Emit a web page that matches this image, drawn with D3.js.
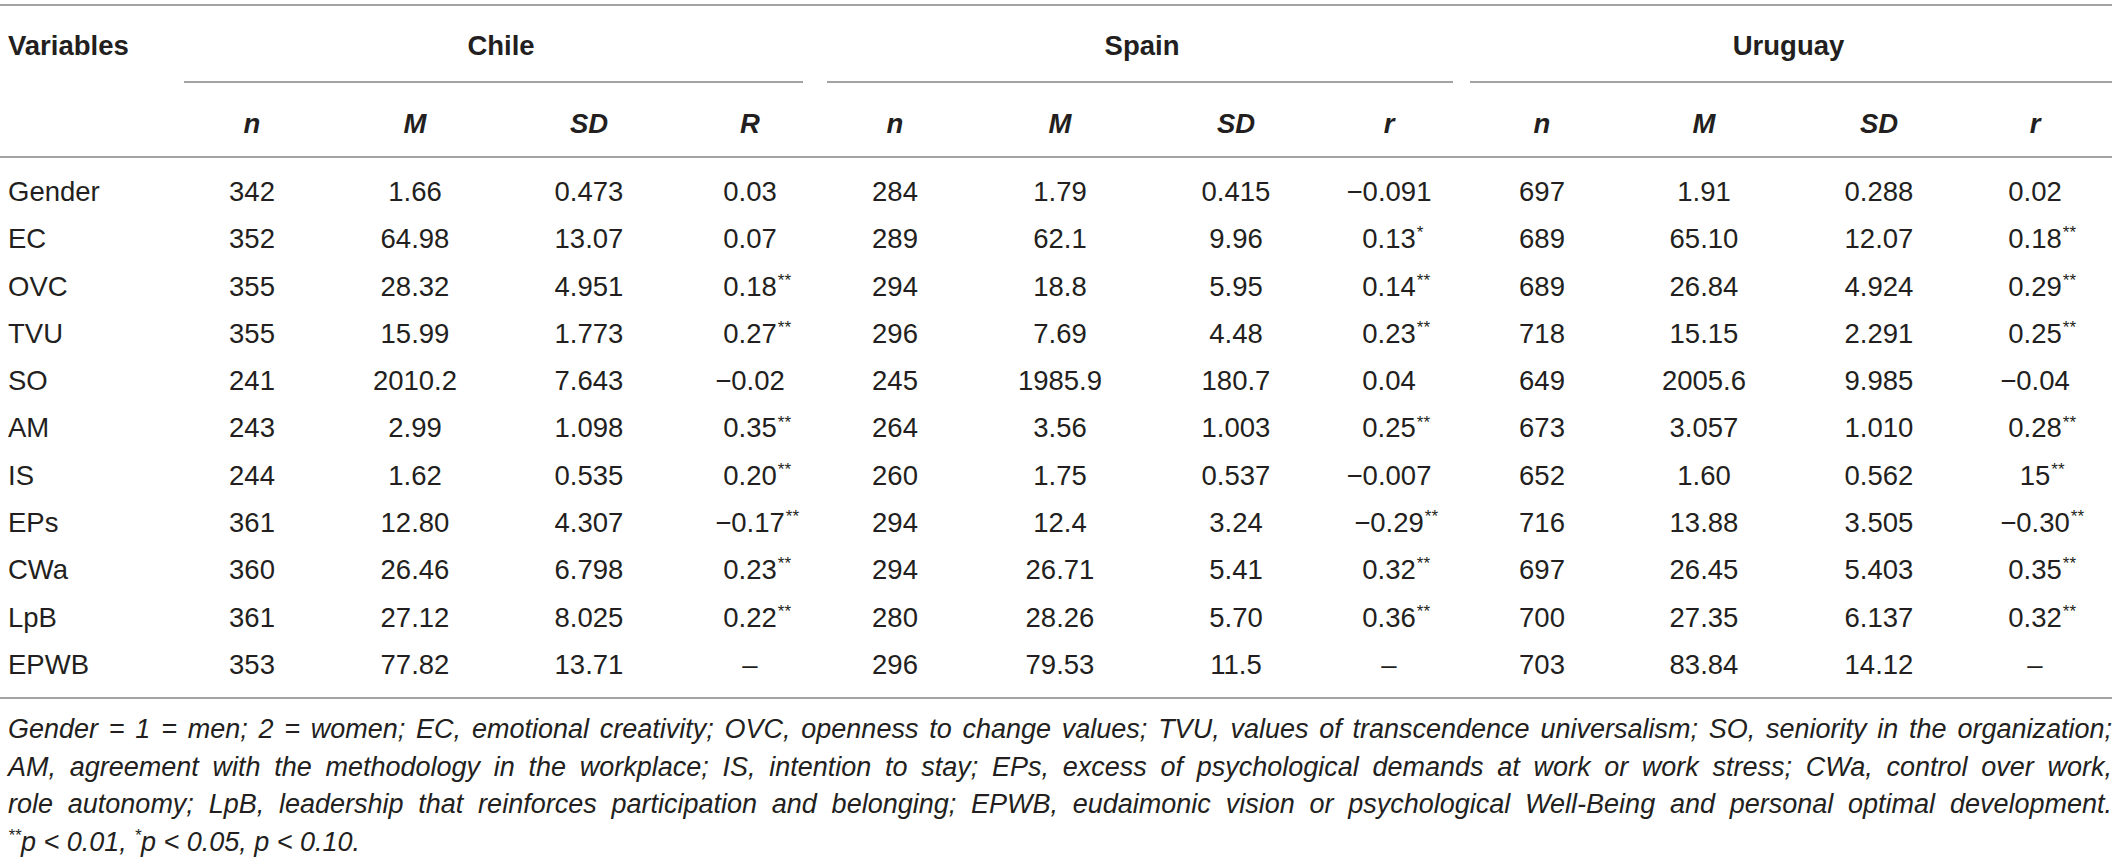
<!DOCTYPE html>
<html><head><meta charset="utf-8">
<script src="https://cdn.jsdelivr.net/npm/d3@7"></script>
<style>
html,body{margin:0;padding:0;background:#fff;}
svg{display:block;}
</style></head>
<body>
<svg id="chart" width="2120" height="860"></svg>
<script>
// ---- data ----
const variables = ["Gender","EC","OVC","TVU","SO","AM","IS","EPs","CWa","LpB","EPWB"];
const countries = ["Chile","Spain","Uruguay"];
const statLabels = [["n","M","SD","R"],["n","M","SD","r"],["n","M","SD","r"]];
const chileN  = ["342","352","355","355","241","243","244","361","360","361","353"];
const chileM  = ["1.66","64.98","28.32","15.99","2010.2","2.99","1.62","12.80","26.46","27.12","77.82"];
const chileSD = ["0.473","13.07","4.951","1.773","7.643","1.098","0.535","4.307","6.798","8.025","13.71"];
const chileR  = ["0.03","0.07","0.18**","0.27**","−0.02","0.35**","0.20**","−0.17**","0.23**","0.22**","–"];
const spainN  = ["284","289","294","296","245","264","260","294","294","280","296"];
const spainM  = ["1.79","62.1","18.8","7.69","1985.9","3.56","1.75","12.4","26.71","28.26","79.53"];
const spainSD = ["0.415","9.96","5.95","4.48","180.7","1.003","0.537","3.24","5.41","5.70","11.5"];
const spainR  = ["−0.091","0.13*","0.14**","0.23**","0.04","0.25**","−0.007","−0.29**","0.32**","0.36**","–"];
const uruN    = ["697","689","689","718","649","673","652","716","697","700","703"];
const uruM    = ["1.91","65.10","26.84","15.15","2005.6","3.057","1.60","13.88","26.45","27.35","83.84"];
const uruSD   = ["0.288","12.07","4.924","2.291","9.985","1.010","0.562","3.505","5.403","6.137","14.12"];
const uruR    = ["0.02","0.18**","0.29**","0.25**","−0.04","0.28**","15**","−0.30**","0.35**","0.32**","–"];
const footnoteLines = [
 "Gender = 1 = men; 2 = women; EC, emotional creativity; OVC, openness to change values; TVU, values of transcendence universalism; SO, seniority in the organization;",
 "AM, agreement with the methodology in the workplace; IS, intention to stay; EPs, excess of psychological demands at work or work stress; CWa, control over work,",
 "role autonomy; LpB, leadership that reinforces participation and belonging; EPWB, eudaimonic vision or psychological Well-Being and personal optimal development."
];
const footnoteSig = [["**","p < 0.01, "],["*","p < 0.05, "],["","p < 0.10."]];

// ---- layout ----
const FONT = "'Liberation Sans', Arial, Helvetica, sans-serif";
const FS = 27.5;
const TEXT = "#231f20", RULE = "#a3a3a3";
const columns = [chileN,chileM,chileSD,chileR,spainN,spainM,spainSD,spainR,uruN,uruM,uruSD,uruR];
const colKeys = d3.range(columns.length);
const colCenters = [252, 415, 589, 750, 895, 1060, 1236, 1389, 1542, 1704, 1879, 2035];
const x = d3.scaleOrdinal().domain(colKeys).range(colCenters);
const y = d3.scalePoint().domain(variables).range([191, 664]);
const svg = d3.select("#chart").style("font-family", FONT);
const base = (c, fs=FS) => c + fs*0.36;

function rule(yy, x1, x2){
  svg.append("line").attr("x1",x1).attr("x2",x2).attr("y1",yy).attr("y2",yy)
     .attr("stroke",RULE).attr("stroke-width",2);
}
rule(5, 0, 2112);
rule(157, 0, 2112);
rule(698, 0, 2112);

// header
svg.append("text").attr("x",8).attr("y",base(45)).attr("font-size",FS).attr("font-weight","bold")
   .attr("fill",TEXT).text("Variables");
const groupSpans = [[184,803],[827,1453],[1470,2112]];
countries.forEach((c,i)=>{
  const cx = (x(i*4) + x(i*4+3))/2;
  svg.append("text").attr("x",cx).attr("y",base(45)).attr("text-anchor","middle")
     .attr("font-size",FS).attr("font-weight","bold").attr("fill",TEXT).text(c);
  rule(82, groupSpans[i][0], groupSpans[i][1]);
  statLabels[i].forEach((s,j)=>{
    svg.append("text").attr("x",x(i*4+j)).attr("y",base(123)).attr("text-anchor","middle")
       .attr("font-size",FS).attr("font-weight","bold").attr("font-style","italic")
       .attr("fill",TEXT).text(s);
  });
});

// body
svg.selectAll("text.var").data(variables).join("text").attr("class","var")
   .attr("x",8).attr("y",d=>base(y(d))).attr("font-size",FS).attr("fill",TEXT).text(d=>d);

columns.forEach((col,ci)=>{
  col.forEach((v,ri)=>{
    const m = v.match(/^(.*?)(\*+)?$/);
    const num = m[1], sig = m[2]||"";
    const t = svg.append("text").attr("x",x(ci)).attr("y",base(y(variables[ri])))
      .attr("text-anchor","middle").attr("font-size",FS).attr("fill",TEXT).text(num);
    if(sig){
      const w = t.node().getComputedTextLength();
      svg.append("text").attr("x",x(ci)+w/2+1).attr("y",base(y(variables[ri]))-FS*0.36)
        .attr("font-size",FS*0.62).attr("fill",TEXT).text(sig);
    }
  });
});

// footnote (justified)
const fnY = [728, 766, 803, 841];
const L = 8, R = 2112;
const probe = svg.append("text").attr("font-size",24).attr("font-style","italic");
const maxW = d3.max(footnoteLines, l => { probe.text(l); return probe.node().getComputedTextLength(); });
probe.remove();
const FNS = Math.min(27, 24*(R-L-6)/maxW);
footnoteLines.forEach((line,i)=>{
  const t = svg.append("text").attr("x",L).attr("y",base(fnY[i],FNS))
    .attr("font-size",FNS).attr("font-style","italic").attr("fill",TEXT).text(line);
  const w = t.node().getComputedTextLength();
  const spaces = (line.match(/ /g)||[]).length;
  t.attr("word-spacing", (R-L-w)/spaces);
});
const last = svg.append("text").attr("x",L).attr("y",base(fnY[3],FNS))
  .attr("font-size",FNS).attr("font-style","italic").attr("fill",TEXT);
footnoteSig.forEach(([s,txt])=>{
  if(s) last.append("tspan").attr("font-size",FNS*0.62).attr("dy",-FNS*0.36).text(s);
  last.append("tspan").attr("dy", s ? FNS*0.36 : 0).text(txt);
});
</script>
</body></html>
